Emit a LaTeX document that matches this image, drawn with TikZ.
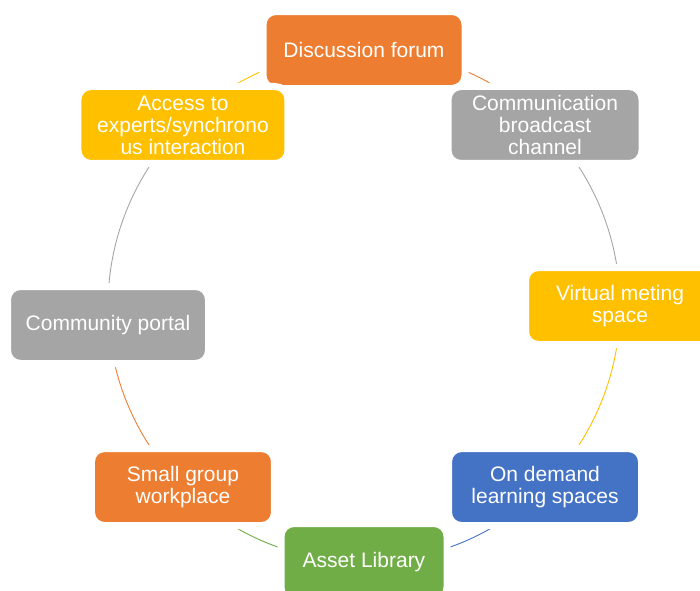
\documentclass[tikz,border=0pt]{standalone}
\usepackage{fontspec}
\setmainfont{Liberation Sans}
\usetikzlibrary{backgrounds}
\definecolor{myorange}{HTML}{ED7D31}
\definecolor{mygray}{HTML}{A5A5A5}
\definecolor{mygold}{HTML}{FFC000}
\definecolor{myblue}{HTML}{4472C4}
\definecolor{mygreen}{HTML}{70AD47}

\begin{document}
\begin{tikzpicture}[x=1pt, y=-1pt]
% Define styles
\tikzset{stage/.style={rounded corners=13pt, draw=white, line width=7pt,
    text=white, minimum height=77pt, inner sep=0pt, align=center,
    font=\fontsize{21}{22}\selectfont},
  ring arc/.style={line width=0.9pt}}

% Parameters
\def\ring{256} % Radius of the cycle

\useasboundingbox (0,0) rectangle (700,590);
\clip (0,0) rectangle (700,590);
\coordinate (hub) at (364,306);

% Stages, clockwise from the top
\node[stage, fill=myorange, minimum width=202pt] (forum)
  at ([shift={(-90:\ring)}]hub) {Discussion forum};
\node[stage, fill=mygray, minimum width=194pt] (broadcast)
  at ([shift={(-45:\ring)}]hub) {Communication\\broadcast\\channel};
\node[stage, fill=mygold, minimum width=189pt] (meeting)
  at ([shift={(0:\ring)}]hub) {Virtual meting\\space};
\node[stage, fill=myblue, minimum width=193pt] (demand)
  at ([shift={(45:\ring)}]hub) {On demand\\learning spaces};
\node[stage, fill=mygreen, minimum width=166pt] (library)
  at ([shift={(90:\ring)}]hub) {Asset Library};
\node[stage, fill=myorange, minimum width=183pt] (workplace)
  at ([shift={(135:\ring)}]hub) {Small group\\workplace};
% this one sits a little below the ring
\node[stage, fill=mygray, minimum width=201pt] (portal)
  at ([shift={(180:\ring)}, yshift=-19pt]hub) {Community portal};
\node[stage, fill=mygold, minimum width=210pt] (experts)
  at ([shift={(225:\ring)}]hub) {Access to\\experts/synchrono\\us interaction};

% Arcs between the stages, behind the boxes
\begin{scope}[on background layer]
  \draw[ring arc, myorange] (forum.center) arc[start angle=-90, end angle=-45, radius=\ring];
  \draw[ring arc, mygray] (broadcast.center) arc[start angle=-45, end angle=0, radius=\ring];
  \draw[ring arc, mygold] (meeting.center) arc[start angle=0, end angle=45, radius=\ring];
  \draw[ring arc, myblue] (demand.center) arc[start angle=45, end angle=90, radius=\ring];
  \draw[ring arc, mygreen] (library.center) arc[start angle=90, end angle=135, radius=\ring];
  \draw[ring arc, myorange] (workplace.center) arc[start angle=135, end angle=180, radius=\ring];
  \draw[ring arc, mygray] (experts.center) arc[start angle=225, end angle=180, radius=\ring];
  \draw[ring arc, mygold] (experts.center) arc[start angle=225, end angle=270, radius=\ring];
\end{scope}

\end{tikzpicture}
\end{document}
